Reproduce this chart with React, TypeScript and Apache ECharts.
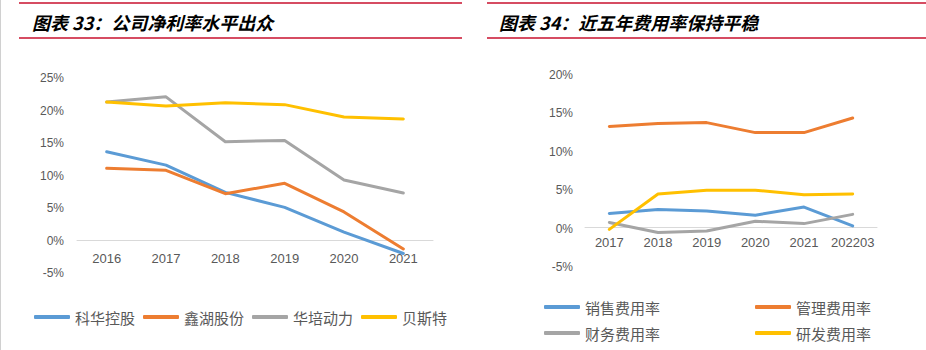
import React, { useEffect, useRef } from "react";
import * as echarts from "echarts";

const leftYears = ["2016", "2017", "2018", "2019", "2020", "2021"];
const kehua = [13.65, 11.6, 7.4, 5.1, 1.3, -2.0];
const xinhu = [11.1, 10.8, 7.2, 8.8, 4.4, -1.3];
const huapei = [21.3, 22.1, 15.2, 15.4, 9.3, 7.3];
const beisite = [21.3, 20.7, 21.2, 20.9, 19.0, 18.7];

const rightYears = ["2017", "2018", "2019", "2020", "2021", "202203"];
const xiaoshou = [1.97, 2.5, 2.3, 1.75, 2.8, 0.35];
const guanli = [13.3, 13.7, 13.8, 12.5, 12.5, 14.4];
const caiwu = [0.8, -0.5, -0.3, 0.95, 0.65, 1.85];
const yanfa = [-0.1, 4.5, 5.0, 5.0, 4.4, 4.5];

const BLUE = "#5B9BD5";
const ORANGE = "#ED7D31";
const GRAY = "#A5A5A5";
const YELLOW = "#FFC000";
const RED = "#C8102E";
const CJK = "'Noto Sans CJK SC', sans-serif";
const NUM = "'Liberation Sans', Arial, sans-serif";

export default function App() {
  const ref = useRef<HTMLDivElement>(null);
  useEffect(() => {
    if (!ref.current) return;
    const chart = echarts.init(ref.current, undefined, { renderer: "svg" });
    const axisLabel = { color: "#595959", fontSize: 12, fontFamily: NUM };
    const lineSeries = (name: string, data: number[], color: string, idx: number) => ({
      name,
      type: "line",
      data,
      xAxisIndex: idx,
      yAxisIndex: idx,
      symbol: "none",
      lineStyle: { color, width: 3, cap: "round", join: "round" },
      itemStyle: { color },
    });
    const legendText = { color: "#595959", fontSize: 15, fontFamily: CJK, lineHeight: 16 };
    const oneLegend = (name: string, left: number, top: number) => ({
      data: [name],
      left,
      top,
      icon: "roundRect",
      itemWidth: 36,
      itemHeight: 4,
      textStyle: legendText,
    });
    chart.setOption({
      animation: false,
      backgroundColor: "#fff",
      grid: [
        { left: 77, right: 493, top: 78, bottom: 77 },
        { left: 585, right: 49, top: 75, bottom: 83 },
      ],
      xAxis: [
        {
          type: "category",
          gridIndex: 0,
          data: leftYears,
          offset: -33,
          axisLine: { show: true, onZero: false, lineStyle: { color: "#D9D9D9", width: 1 } },
          axisTick: { show: false },
          axisLabel: { ...axisLabel, fontSize: 13, margin: 12, interval: 0 },
        },
        {
          type: "category",
          gridIndex: 1,
          data: rightYears,
          offset: -40,
          axisLine: { show: true, onZero: false, lineStyle: { color: "#D9D9D9", width: 1 } },
          axisTick: { show: false },
          axisLabel: { ...axisLabel, fontSize: 13, margin: 9, interval: 0 },
        },
      ],
      yAxis: [
        {
          type: "value",
          gridIndex: 0,
          min: -5,
          max: 25,
          interval: 5,
          splitLine: { show: false },
          axisLine: { show: false },
          axisTick: { show: false },
          axisLabel: { ...axisLabel, margin: 13, formatter: (v: number) => `${v}%` },
        },
        {
          type: "value",
          gridIndex: 1,
          min: -5,
          max: 20,
          interval: 5,
          splitLine: { show: false },
          axisLine: { show: false },
          axisTick: { show: false },
          axisLabel: { ...axisLabel, margin: 12, formatter: (v: number) => `${v}%` },
        },
      ],
      legend: [
        {
          data: ["科华控股", "鑫湖股份", "华培动力", "贝斯特"],
          left: 29,
          top: 304,
          icon: "roundRect",
          itemWidth: 36,
          itemHeight: 4,
          itemGap: 8,
          textStyle: legendText,
        },
        oneLegend("销售费用率", 539, 294),
        oneLegend("财务费用率", 539, 320),
        oneLegend("管理费用率", 750, 294),
        oneLegend("研发费用率", 750, 320),
      ],
      series: [
        lineSeries("科华控股", kehua, BLUE, 0),
        lineSeries("鑫湖股份", xinhu, ORANGE, 0),
        lineSeries("华培动力", huapei, GRAY, 0),
        lineSeries("贝斯特", beisite, YELLOW, 0),
        lineSeries("销售费用率", xiaoshou, BLUE, 1),
        lineSeries("管理费用率", guanli, ORANGE, 1),
        lineSeries("财务费用率", caiwu, GRAY, 1),
        lineSeries("研发费用率", yanfa, YELLOW, 1),
      ],
      graphic: [
        { type: "line", shape: { x1: 0.5, y1: 0, x2: 0.5, y2: 350 }, style: { stroke: "#D0D0D0", lineWidth: 1 } },
        { type: "line", shape: { x1: 19, y1: 3, x2: 462, y2: 3 }, style: { stroke: RED, lineWidth: 1.3 } },
        { type: "line", shape: { x1: 19, y1: 38, x2: 462, y2: 38 }, style: { stroke: RED, lineWidth: 1.3 } },
        { type: "line", shape: { x1: 487, y1: 3, x2: 926, y2: 3 }, style: { stroke: RED, lineWidth: 1.3 } },
        { type: "line", shape: { x1: 487, y1: 38, x2: 926, y2: 38 }, style: { stroke: RED, lineWidth: 1.3 } },
        {
          type: "text",
          x: 32,
          y: 22,
          style: {
            text: "图表 33：公司净利率水平出众",
            fill: "#000",
            font: `italic bold 18px ${CJK}`,
            textVerticalAlign: "middle",
            verticalAlign: "middle",
          },
        },
        {
          type: "text",
          x: 499,
          y: 22,
          style: {
            text: "图表 34：近五年费用率保持平稳",
            fill: "#000",
            font: `italic bold 18px ${CJK}`,
            textVerticalAlign: "middle",
            verticalAlign: "middle",
          },
        },
      ],
    });
    return () => chart.dispose();
  }, []);
  return (
    <div
      ref={ref}
      style={{ position: "fixed", left: 0, top: 0, width: 926, height: 350, background: "#fff" }}
    />
  );
}
